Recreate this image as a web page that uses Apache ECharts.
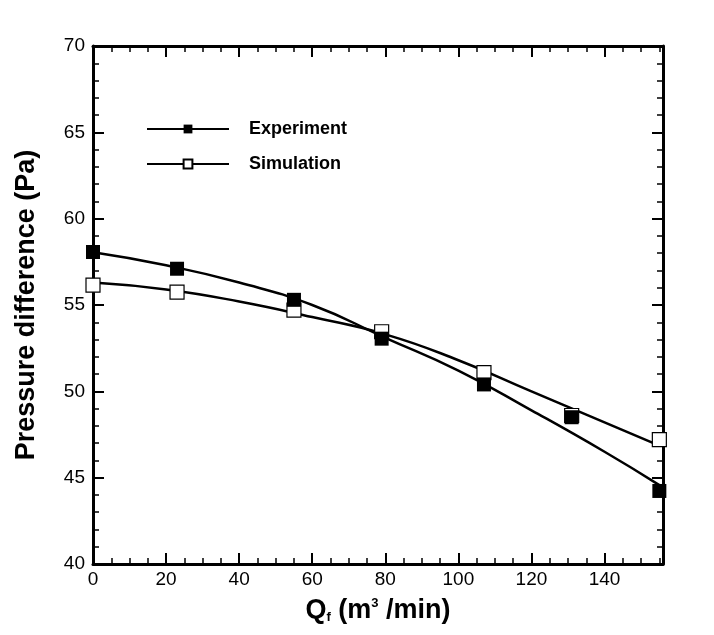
<!DOCTYPE html>
<html>
<head>
<meta charset="utf-8">
<script src="https://cdn.jsdelivr.net/npm/echarts@6/dist/echarts.min.js"></script>
<style>html,body{margin:0;padding:0;background:#fff}#c{width:714px;height:635px}</style>
</head>
<body>
<div id="c"></div>
<script>
// Measured points
const qf = [0, 23, 55, 79, 107, 131, 155];
const experiment = [58.07, 57.1, 55.3, 53.05, 50.4, 48.5, 44.23];
const simulation = [56.15, 55.75, 54.7, 53.45, 51.08, 48.6, 47.2];
// Fitted curves
const curveX = [0, 20, 40, 60, 80, 100, 120, 140, 155];
const experimentCurve = [58.05, 57.3, 56.3, 55.0, 53.1, 51.2, 48.9, 46.5, 44.57];
const simulationCurve = [56.3, 55.9, 55.2, 54.3, 53.3, 51.8, 50.0, 48.2, 46.85];
const yTicks = [40, 45, 50, 55, 60, 65, 70];
const xTicks = [0, 20, 40, 60, 80, 100, 120, 140];

const pair = (xs, ys) => xs.map((x, i) => [x, ys[i]]);
const chart = echarts.init(document.getElementById('c'));
const axisCommon = {
  axisLine: { show: true, onZero: false, lineStyle: { color: '#000', width: 3 } },
  axisTick: { show: true, inside: true, length: 11, lineStyle: { color: '#000', width: 2 } },
  minorTick: { show: true, length: 6, lineStyle: { color: '#000', width: 1.5 } },
  splitLine: { show: false }
};
const fontFam = 'Liberation Sans, Arial, sans-serif';
chart.setOption({
  animation: false,
  backgroundColor: '#fff',
  grid: { left: 93, top: 46, right: 51, bottom: 71, containLabel: false },
  legend: {
    left: 141, top: 115, orient: 'vertical', itemWidth: 82, itemHeight: 11, itemGap: 17,
    data: ['Experiment', 'Simulation'],
    textStyle: { fontFamily: fontFam, fontWeight: 'bold', fontSize: 18, color: '#000', padding: [0, 0, 0, 15] }
  },
  xAxis: [
    Object.assign({}, axisCommon, {
      type: 'value', min: 0, max: 156, interval: 20, position: 'bottom',
      minorTick: Object.assign({}, axisCommon.minorTick, { splitNumber: 4 }),
      axisLabel: { color: '#000', fontFamily: fontFam, fontSize: 19, margin: 6,
        formatter: v => xTicks.indexOf(v) >= 0 ? String(v) : '' },
      name: '{b|Q}{sub|f}{b| (m}{sup|3}{b| /min)}', nameLocation: 'middle', nameGap: 33,
      nameTextStyle: { color: '#000', fontFamily: fontFam, fontWeight: 'bold', fontSize: 27,
        rich: {
          b: { fontFamily: fontFam, fontWeight: 'bold', fontSize: 27, color: '#000' },
          sub: { fontFamily: fontFam, fontWeight: 'bold', fontSize: 13, color: '#000', verticalAlign: 'bottom', padding: [14, 0, 0, 0] },
          sup: { fontFamily: fontFam, fontWeight: 'bold', fontSize: 13, color: '#000', verticalAlign: 'top', padding: [0, 0, 14, 0] }
        } }
    }),
    Object.assign({}, axisCommon, {
      type: 'value', min: 0, max: 156, interval: 20, position: 'top',
      minorTick: Object.assign({}, axisCommon.minorTick, { splitNumber: 4 }),
      axisLabel: { show: false }
    })
  ],
  yAxis: [
    Object.assign({}, axisCommon, {
      type: 'value', min: 40, max: 70, interval: 5, position: 'left',
      minorTick: Object.assign({}, axisCommon.minorTick, { splitNumber: 5 }),
      axisLabel: { color: '#000', fontFamily: fontFam, fontSize: 19, margin: 8,
        formatter: v => yTicks.indexOf(v) >= 0 ? String(v) : '' },
      name: 'Pressure difference (Pa)', nameLocation: 'middle', nameGap: 53, nameRotate: 90,
      nameTextStyle: { color: '#000', fontFamily: fontFam, fontWeight: 'bold', fontSize: 27 }
    }),
    Object.assign({}, axisCommon, {
      type: 'value', min: 40, max: 70, interval: 5, position: 'right',
      minorTick: Object.assign({}, axisCommon.minorTick, { splitNumber: 5 }),
      axisLabel: { show: false }
    })
  ],
  series: [
    { name: 'Experiment', type: 'line', smooth: true, data: pair(curveX, experimentCurve),
      symbol: 'rect', symbolSize: 11, showSymbol: false,
      itemStyle: { color: '#000', borderColor: '#000' }, lineStyle: { color: '#000', width: 2.5 }, z: 2 },
    { name: 'Simulation', type: 'line', smooth: true, data: pair(curveX, simulationCurve),
      symbol: 'rect', symbolSize: 11, showSymbol: false,
      itemStyle: { color: '#fff', borderColor: '#000', borderWidth: 1.2 }, lineStyle: { color: '#000', width: 2.5 }, z: 2 },
    { name: 'Simulation', type: 'scatter', data: pair(qf, simulation), symbol: 'rect', symbolSize: 14,
      itemStyle: { color: '#fff', borderColor: '#000', borderWidth: 1.2, opacity: 1 }, z: 3 },
    { name: 'Experiment', type: 'scatter', data: pair(qf, experiment), symbol: 'rect', symbolSize: 14,
      itemStyle: { color: '#000', opacity: 1 }, z: 4 }
  ]
});
</script>
</body>
</html>
